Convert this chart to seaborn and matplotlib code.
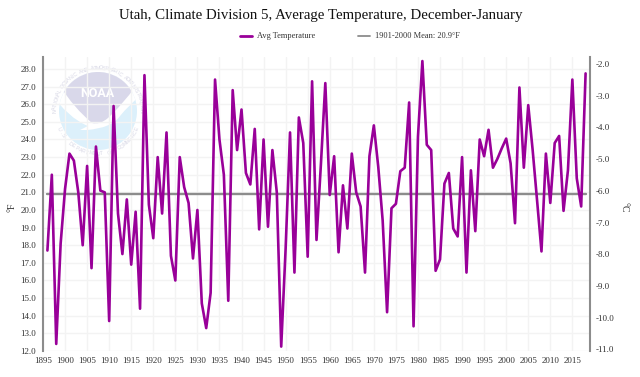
import matplotlib
matplotlib.use('Agg')
import matplotlib.pyplot as plt
from matplotlib.patches import Circle, PathPatch
from matplotlib.path import Path
import seaborn as sns
import pandas as pd
import numpy as np

##################
#Data#############
##################

years = list(range(1896, 2019))
temps = [17.7, 22.0, 12.4, 18.1, 21.2, 23.2, 22.8, 21.0, 18.0, 22.5,
         16.7, 23.6, 21.1, 21.0, 13.7, 25.9, 19.8, 17.5, 20.6, 16.9,
         19.9, 14.4, 27.65, 20.3, 18.4, 23.0, 19.8, 24.4, 17.4, 16.0,
         23.0, 21.3, 20.4, 17.25, 20.0, 14.7, 13.3, 15.3, 27.4, 24.0,
         22.0, 14.85, 26.8, 23.4, 25.7, 22.1, 21.45, 24.6, 18.9, 24.0,
         19.05, 23.4, 21.0, 12.25, 17.8, 24.4, 16.45, 25.25, 23.8, 17.35,
         27.3, 18.3, 22.6, 27.2, 20.85, 23.05, 17.6, 21.4, 18.95, 23.2,
         21.0, 20.2, 16.45, 23.05, 24.8, 22.45, 19.4, 14.2, 20.1, 20.35,
         22.2, 22.4, 26.1, 13.4, 24.15, 28.45, 23.7, 23.4, 16.55, 17.2,
         21.5, 22.1, 18.95, 18.5, 23.0, 16.45, 22.25, 18.8, 24.0, 23.05,
         24.55, 22.4, 22.9, 23.5, 24.05, 22.65, 19.25, 26.95, 22.4, 25.95,
         23.4, 20.55, 17.65, 23.2, 20.4, 23.8, 24.2, 19.95, 22.25, 27.4,
         21.8, 20.2, 27.75]
mean_years = [1896, 2018]
mean_vals = [20.9, 20.9]

x_ticks = list(range(1895, 2016, 5))
y_ticks = [12 + ii for ii in range(17)]
c_ticks = [-2 - ii for ii in range(10)]

df = pd.DataFrame({'year': years, 'temp': temps})
df_mean = pd.DataFrame({'year': mean_years, 'temp': mean_vals})

##################
#Plot#############
##################

sns.set_theme(style='white')
plt.rcParams['font.family'] = ['Liberation Serif', 'DejaVu Serif']

W, H = 640, 377
fig = plt.figure(figsize=(W/100, H/100), dpi=100)
ax = fig.add_axes([43/W, 1 - 351/H, (590-43)/W, (351-57)/H])


def ring_text(logo, text, cx, cy, radius, start, end, bottom=False):
    """
    put a text letter by letter on a circle, angles in degrees
    """
    for ii, letter in enumerate(text):
        ang = np.radians(start + (end - start) * ii / (len(text) - 1))
        rot = np.degrees(ang) - 90
        if bottom:
            rot = np.degrees(ang) + 90
        logo.text(cx + radius * np.cos(ang), cy - radius * np.sin(ang), letter, rotation=rot,
                  ha='center', va='center', fontsize=3.8, color='#d8d8e6', family='Liberation Sans')


def draw_logo():
    """
    the NOAA watermark behind the lines, drawn in picture pixels
    """
    logo = fig.add_axes([43/W, 1 - 351/H, (590-43)/W, (351-57)/H], zorder=0)
    logo.set_xlim(43, 590)
    logo.set_ylim(351, 57)
    logo.axis('off')
    cx, cy = 98, 111

    disc = Circle((cx, cy), 39, fc='#dcf0fb', ec='none')
    logo.add_patch(disc)

    wing = Path([(50, 92), (68, 118), (88, 126), (80, 130), (87, 130), (112, 128), (120, 116), (128, 106), (146, 90), (146, 60), (50, 60), (50, 92)],
                [Path.MOVETO, Path.CURVE3, Path.CURVE3, Path.LINETO, Path.LINETO, Path.CURVE3, Path.CURVE3, Path.CURVE3, Path.CURVE3,
                 Path.LINETO, Path.LINETO, Path.CLOSEPOLY])
    white = PathPatch(wing, fc='white', ec='none')
    logo.add_patch(white)
    white.set_clip_path(disc)

    cap = Path([(60, 86), (74, 108), (92, 123), (100, 125), (108, 118), (122, 105), (136, 86), (136, 60), (60, 60), (60, 86)],
               [Path.MOVETO, Path.CURVE3, Path.CURVE3, Path.CURVE3, Path.CURVE3, Path.CURVE3, Path.CURVE3,
                Path.LINETO, Path.LINETO, Path.CLOSEPOLY])
    purple = PathPatch(cap, fc='#d9d8ea', ec='none')
    logo.add_patch(purple)
    purple.set_clip_path(disc)

    logo.text(97, 93, 'NOAA', color='white', ha='center', va='center', fontsize=9,
              family='Roboto', fontweight='bold')
    ring_text(logo, 'NATIONAL OCEANIC AND ATMOSPHERIC ADMINISTRATION', cx, cy, 43, 180, 0)
    ring_text(logo, 'U.S. DEPARTMENT OF COMMERCE', cx, cy, 43, 205, 335, bottom=True)
    return logo


draw_logo()
ax.set_zorder(1)
ax.patch.set_alpha(0)

sns.lineplot(data=df_mean, x='year', y='temp', ax=ax, color='#8c8c8c', linewidth=1.7, zorder=3)
sns.lineplot(data=df, x='year', y='temp', ax=ax, color='#990099', linewidth=1.9, zorder=4)

ax.set_xlim(1895, 2019)
ax.set_ylim(12, 28.68)
ax.set_xticks(x_ticks)
ax.set_yticks(y_ticks)
ax.set_yticklabels(['%.1f' % v for v in y_ticks])
ax.set_xlabel('')
ax.set_ylabel('°F', fontsize=7, color='#333333', labelpad=3, y=0.49)
ax.grid(True, color='#f3f3f3', linewidth=1)
ax.set_axisbelow(True)
ax.tick_params(axis='both', length=0, labelsize=6.5, labelcolor='#333333')
ax.tick_params(axis='y', pad=5)
ax.tick_params(axis='x', pad=4)

for side in ['top', 'right', 'bottom']:
    ax.spines[side].set_visible(False)
ax.spines['left'].set_color('#8c8c8c')
ax.spines['left'].set_linewidth(1.5)

ax2 = ax.twinx()
ax2.set_ylim((12 - 32) * 5 / 9 + 0.063, (28.68 - 32) * 5 / 9 + 0.063)
ax2.set_yticks(c_ticks)
ax2.set_yticklabels(['%.1f' % v for v in c_ticks])
ax2.set_ylabel('°C', fontsize=7, color='#333333', rotation=270, labelpad=10, y=0.49)
ax2.grid(False)
ax2.tick_params(axis='y', length=0, labelsize=6.5, labelcolor='#333333', pad=4)
for side in ['top', 'left', 'bottom']:
    ax2.spines[side].set_visible(False)
ax2.spines['right'].set_color('#8c8c8c')
ax2.spines['right'].set_linewidth(1.5)

fig.text(320.5/W, 1 - 16/H, 'Utah, Climate Division 5, Average Temperature, December-January',
         ha='center', va='center', fontsize=10.75, color='#111111')

handles = [plt.Line2D([], [], color='#990099', linewidth=2.0),
           plt.Line2D([], [], color='#8c8c8c', linewidth=1.3)]
fig.legend(handles, ['Avg Temperature', '1901-2000 Mean: 20.9°F'], ncol=2, frameon=False,
           loc='center', bbox_to_anchor=(350/W, 1 - 36.5/H), fontsize=6, labelcolor='#333333',
           handlelength=1.45, columnspacing=5.2, handletextpad=0.6)

fig.savefig('out.png', dpi=100)
plt.close()
